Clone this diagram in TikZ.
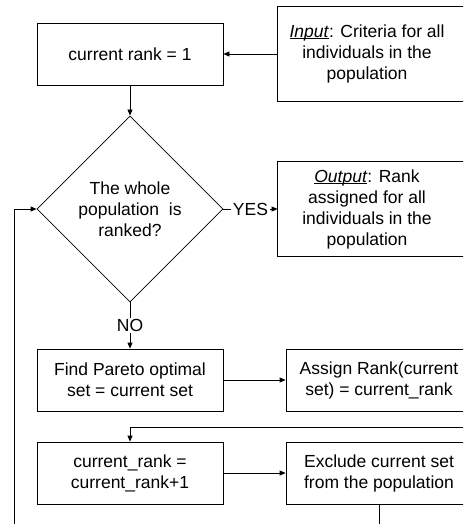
\documentclass[tikz,border=0pt]{standalone}
\usepackage{fontspec}
\setmainfont{Liberation Sans}
\usetikzlibrary{shapes.geometric,arrows.meta}

% underline sitting just under the baseline
\newcommand\tightul[1]{\setbox0\hbox{#1}\rlap{\rule[-1.6pt]{\wd0}{0.7pt}}\box0}

\begin{document}
\begin{tikzpicture}[x=1pt,y=-1pt,
  font=\fontsize{17.5}{21}\selectfont,
  line width=0.8pt,
  box/.style={draw, minimum width=186pt, minimum height=62pt, align=center, inner sep=0pt},
  ionode/.style={minimum width=178pt, align=center, inner sep=0pt},
  decision/.style={draw, diamond, shape aspect=1, minimum width=186pt,
                   minimum height=186pt, inner sep=0pt, align=center},
  arr/.style={-{Triangle[length=6pt,width=5pt]}},
  lbl/.style={fill=white, inner sep=1.5pt}
]
\useasboundingbox (0,0) rectangle (463,524);
\fill[white] (0,0) rectangle (463,524);
\clip (0,0) rectangle (463,524);

% main column
\node[box] (rank1) at (130,54) {current rank = 1};
\node[decision] (dec) at (130,209) {The whole\\population~ is\\ranked?};
\node[box] (find) at (130,380) {Find Pareto optimal\\set = current set};
\node[box] (cr) at (130,473) {current\_rank =\\current\_rank+1};

% right column
\node[ionode, minimum height=94pt] (input) at (367,54)
  {\tightul{\textit{Input}}: Criteria for all\\individuals in the\\population};
\draw (input.north west) rectangle ([xshift=20pt]input.south east);
\node[ionode, minimum height=94pt] (output) at (367,209)
  {\tightul{\textit{Output}}: Rank\\assigned for all\\individuals in the\\population};
\draw (output.north west) rectangle ([xshift=20pt]output.south east);
\node[box] (assign) at (379,380) {Assign Rank(current\\set) = current\_rank};
\node[box] (excl) at (379,473) {Exclude current set\\from the population};

% free ends of the loop lines
\coordinate (backin) at (475,427);
\coordinate (exdown) at (379,535);
\coordinate (loopbot) at (14,535);

% connectors
\draw[arr] (input.west) -- (rank1.east);
\draw[arr] (rank1.south) -- (dec.north);
\draw[arr] (dec.east) -- node[lbl] {YES} (output.west);
\draw[arr] (dec.south) -- node[lbl] {NO} (find.north);
\draw[arr] (find.east) -- (assign.west);
\draw[arr] (backin) -| (cr.north);
\draw[arr] (cr.east) -- (excl.west);
\draw (excl.south) -- (exdown);
\draw[arr] (loopbot) |- (dec.west);
\end{tikzpicture}
\end{document}
